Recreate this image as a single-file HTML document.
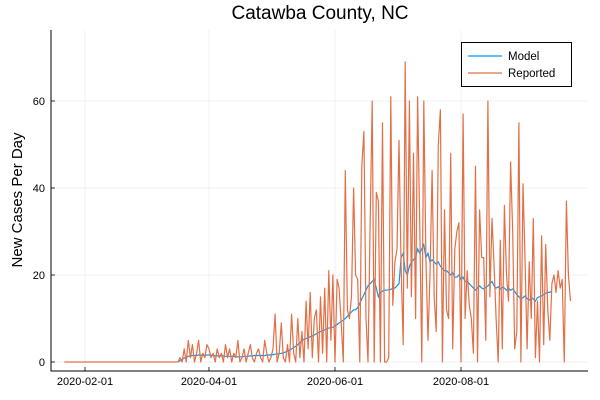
<!DOCTYPE html>
<html><head><meta charset="utf-8"><style>
body{margin:0;background:#fff}
svg{display:block;font-family:"Liberation Sans",sans-serif}
</style></head><body>
<svg id="chart" width="600" height="400">
<rect width="600" height="400" fill="#fff"/>
<text x="320" y="19" text-anchor="middle" font-size="19" fill="#000">Catawba County, NC</text>
<text transform="translate(22,200) rotate(-90)" text-anchor="middle" font-size="15">New Cases Per Day</text>
<g id="grid"></g>
<g id="axes"></g>
<g id="series"></g>
<g>
<rect x="461.5" y="42.5" width="110" height="44" fill="#fff" stroke="#000" stroke-width="1"/>
<line x1="468" y1="56" x2="502" y2="56" stroke="#009af9" stroke-width="1.2"/>
<text x="508" y="60" font-size="11.5">Model</text>
<line x1="468" y1="73" x2="502" y2="73" stroke="#e26f46" stroke-width="1.2"/>
<text x="508" y="77" font-size="11.5">Reported</text>
</g>
</svg>
<script>
const xTickDays = [10, 70, 131, 192];
const xTickLabels = ["2020-02-01", "2020-04-01", "2020-06-01", "2020-08-01"];
const yTickValues = [0, 20, 40, 60];
const reportedStart = 0;
const reported = [
0,0,0,0,0,0,0,0,0,0, 0,0,0,0,0,0,0,0,0,0, 0,0,0,0,0,0,0,0,0,0,
0,0,0,0,0,0,0,0,0,0, 0,0,0,0,0,0,0,0,0,0, 0,0,0,0,0,
0,1,0,3,0,5,1,4,0,2,
5,0,2,1,4,3,1,2,0,3,
1,2,0,4,1,3,0,2,1,5,
0,1,3,0,2,4,1,0,2,3,
1,0,5,2,0,1,3,11,0,2,
9,1,0,4,0,11,2,0,10,1,
7,0,14,3,16,1,10,12,0,15,
2,17,0,21,5,20,0,19,17,9,
0,44,12,10,15,40,20,19,0,45,
53,10,0,31,60,0,39,37,0,55,
0,0,1,61,13,23,26,51,22,4,
69,17,60,15,48,10,61,32,0,60,
24,5,20,44,15,7,50,58,0,35,
12,10,48,3,26,30,32,0,57,10,
21,13,10,2,45,0,35,24,24,5,
60,15,33,22,10,0,28,3,36,20,
14,46,30,3,7,55,0,41,23,3,
23,10,33,1,14,0,29,4,27,12,
5,18,20,16,21,17,19,0,37,20,
14];
const modelStart = 55;
const model = [
0,0.3,0.6,0.9,1.1,1.3,1.4,1.5,1.5,1.5,
1.6,1.6,1.5,1.5,1.6,1.6,1.5,1.5,1.4,1.4,
1.4,1.4,1.4,1.3,1.3,1.3,1.3,1.3,1.2,1.2,
1.2,1.2,1.3,1.3,1.3,1.4,1.4,1.5,1.5,1.5,
1.5,1.5,1.5,1.6,1.6,1.7,1.7,1.8,1.8,1.9,
2.0,2.1,2.3,2.5,2.7,3,3.3,3.6,4,4.4,
5.0,5.2,5.4,5.6,5.8,6.0,6.2,6.5,6.8,7.0,
7.2,7.4,7.6,7.8,7.9,8.0,8.3,8.6,9.0,9.3,
9.6,10,10.5,11,11.5,12,12,12.5,13.5,14.5,
15.5,16.5,17.5,18,18.5,19,17,15,16,16.3,
16.5,16.5,16.6,16.7,17,17,17.5,18,24,25,
21,20,22,23,23.5,24,26,25,26,27,
24,25,23,23.5,23,22.5,23,22,21.5,21,
21,20.5,20,20.5,19.5,19.5,20,19,19.5,18.5,
18.5,18,17.5,17,16.5,17,17.5,17,16.8,17.2,
17.5,18,18.5,17.5,17,17.3,16.8,17.2,17,16.5,
17,16.5,16.8,16.2,15.5,15,14.5,14.8,15.2,14.6,
14.2,14.8,14.5,14,14.8,15,15.2,15.5,15.8,16,
16,16.3];

const NS = "http://www.w3.org/2000/svg";
const xS = d => 85 + (d - 10) * 2.066;
const yS = v => 362 - v * 4.35;
const L = 51, R = 588, T = 30, B = 371;
function mk(tag, attrs, parent) {
  const e = document.createElementNS(NS, tag);
  for (const k in attrs) e.setAttribute(k, attrs[k]);
  parent.appendChild(e);
  return e;
}
const grid = document.getElementById('grid');
const axes = document.getElementById('axes');
const series = document.getElementById('series');
xTickDays.forEach((d, i) => {
  const x = xS(d);
  const g = mk('line', {x1: x, y1: T, x2: x, y2: B, stroke: '#000', 'stroke-opacity': 0.1, 'stroke-width': 0.5}, grid);
  
  
  const t = mk('line', {x1: x, y1: B, x2: x, y2: B - 4, stroke: '#000', 'stroke-width': 0.8}, axes);
  
  
  const lb = mk('text', {x: x, y: 385, 'text-anchor': 'middle', 'font-size': 11}, axes);
  lb.textContent = xTickLabels[i];
  
  
});
yTickValues.forEach(v => {
  const y = yS(v);
  const g = mk('line', {x1: L, y1: y, x2: R, y2: y, stroke: '#000', 'stroke-opacity': 0.1, 'stroke-width': 0.5}, grid);
  
  
  const t = mk('line', {x1: L, y1: y, x2: L + 4, y2: y, stroke: '#000', 'stroke-width': 0.8}, axes);
  
  
  const lb = mk('text', {x: L - 6, y: y + 4, 'text-anchor': 'end', 'font-size': 11}, axes);
  lb.textContent = v;
  
  
});
const ax = mk('path', {d: `M${L} ${T}V${B}H${R}`, fill: 'none', stroke: '#000', 'stroke-width': 1}, axes);


const mp = mk('polyline', {points: model.map((v, i) => xS(modelStart + i).toFixed(1) + ',' + yS(v).toFixed(1)).join(' '), fill: 'none', stroke: '#009af9', 'stroke-width': 1.2}, series);


const rp = mk('polyline', {points: reported.map((v, i) => xS(reportedStart + i).toFixed(1) + ',' + yS(v).toFixed(1)).join(' '), fill: 'none', stroke: '#e26f46', 'stroke-width': 1.2, 'stroke-linejoin': 'round'}, series);


</script>
</body></html>
